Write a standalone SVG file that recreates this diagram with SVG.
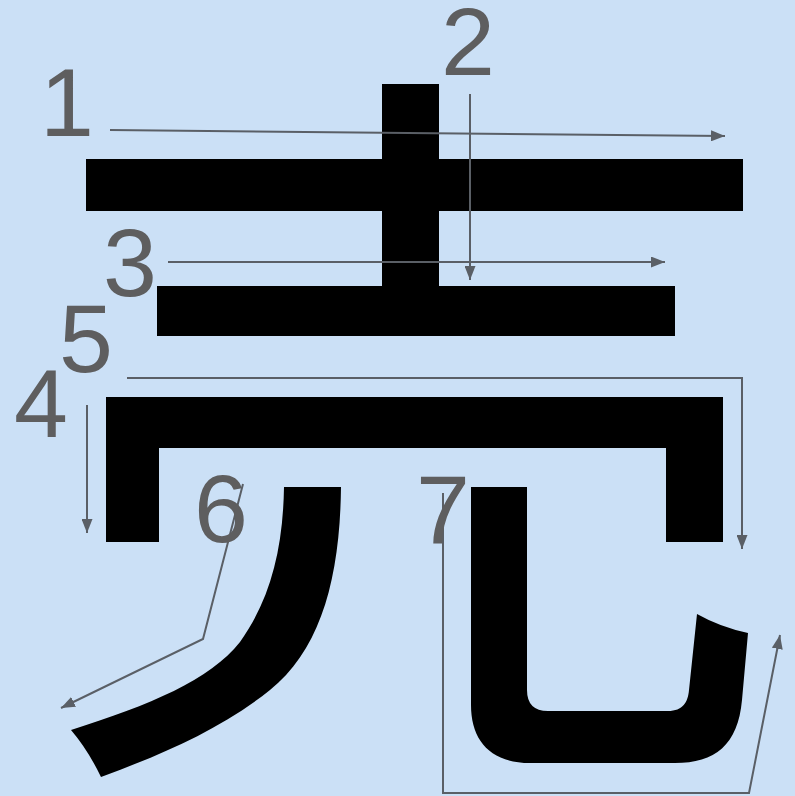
<svg xmlns="http://www.w3.org/2000/svg" width="795" height="796" viewBox="0 0 795 796">
  <style>
    .stroke { fill: #000000; }
    .num { font-family: "Liberation Sans", Arial, sans-serif; font-size: 97px; fill: #5e5e5f; }
    .arrow { fill: none; stroke: #5a5f66; stroke-width: 2; marker-end: url(#ah); }
  </style>
  <defs>
    <marker id="ah" viewBox="0 0 14 11" refX="14" refY="5.5" markerWidth="14" markerHeight="11" orient="auto" markerUnits="userSpaceOnUse">
      <path d="M0,0 L14,5.5 L0,11 Z" fill="#5a5f66"/>
    </marker>
  </defs>
  <rect x="0" y="0" width="795" height="796" fill="#cbe0f6"/>

  <g id="stroke1">
    <rect class="stroke" x="86" y="159" width="657" height="52"/>
  </g>
  <g id="stroke2">
    <rect class="stroke" x="382" y="84" width="57" height="204"/>
  </g>
  <g id="stroke3">
    <rect class="stroke" x="157" y="286" width="518" height="50"/>
  </g>
  <g id="stroke4-5">
    <path class="stroke" d="M106,397 L723,397 L723,542 L666,542 L666,448 L159,448 L159,542 L106,542 Z"/>
  </g>
  <g id="stroke6">
    <path class="stroke" d="M284,487 L341,487 C340,580 320,650 270,690 C220,730 160,755 101,777 Q88,750 71,730 C150,705 210,680 240,642 C270,600 283,550 284,487 Z"/>
  </g>
  <g id="stroke7">
    <path class="stroke" d="M471,487 L527,487 L527,690 Q527,711 548,711 L668,711 C683,711 688,702 689,690 L697,614 Q720,627 748,633 L742,700 C738,745 715,763 675,763 L530,763 C490,763 471,740 471,705 Z"/>
  </g>

  <g id="connectors">
    <path class="arrow" d="M110,130 L725,136"/>
    <path class="arrow" d="M470,94 L470,280"/>
    <path class="arrow" d="M168,262 L665,262"/>
    <path class="arrow" d="M87,405 L87,533"/>
    <path class="arrow" d="M127,378 L742,378 L742,549"/>
    <path class="arrow" d="M243,484 L203,639 L61,708"/>
    <path class="arrow" d="M443,493 L443,793 L749,793 L780,635"/>
  </g>

  <g id="labels">
    <text class="num" x="40" y="136">1</text>
    <text class="num" x="441" y="75">2</text>
    <text class="num" x="103" y="296">3</text>
    <text class="num" x="14" y="437">4</text>
    <text class="num" x="59" y="372">5</text>
    <text class="num" x="194" y="542">6</text>
    <text class="num" x="416" y="543">7</text>
  </g>
</svg>
